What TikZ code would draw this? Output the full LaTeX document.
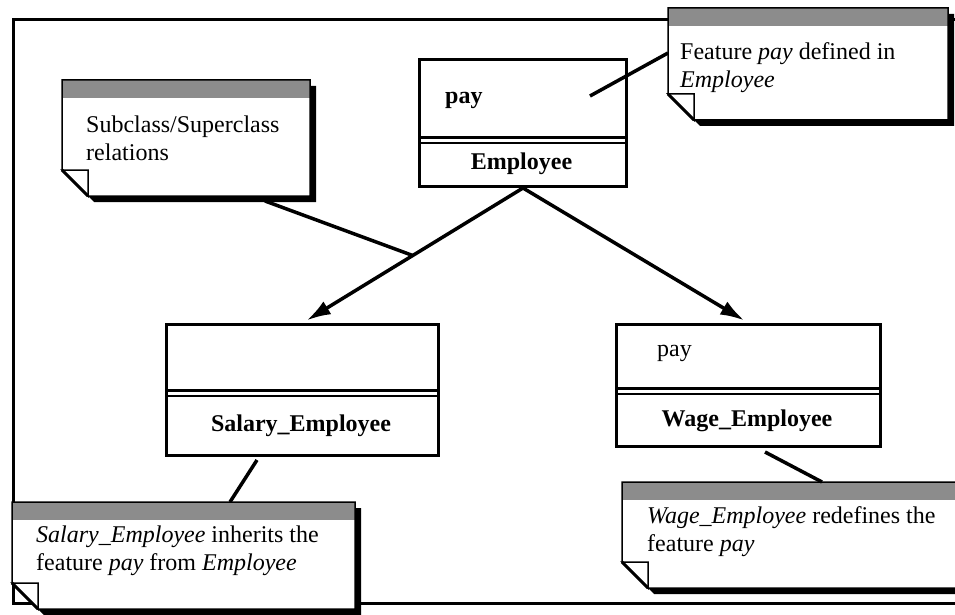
\documentclass[tikz,border=0pt]{standalone}
\usepackage{fontspec}
\setmainfont{Liberation Serif}
\usetikzlibrary{arrows.meta,calc,fit}

\tikzset{
  memotext/.style={inner sep=0pt, align=left, anchor=north west, font=\fontsize{24}{28}\selectfont},
  classbox/.style={draw, line width=3pt, inner sep=0pt},
  classname/.style={inner sep=0pt, font=\fontsize{24}{28}\selectfont\bfseries},
  attr/.style={inner sep=0pt, anchor=west, font=\fontsize{24}{28}\selectfont},
  inherit/.style={line width=3.5pt, -{Latex[length=24pt,width=15pt]}, shorten >=5pt},
  remark/.style={line width=3.5pt},
  frameline/.style={line width=3pt},
  band/.style={fill=black!45},
}

% sticky note: name, x0, y0, x1, y1 (body corners, y grows downward)
\newcommand{\memocard}[5]{%
  \fill (#2+6,#3+6) -- (#4+6,#3+6) -- (#4+6,#5+6) -- (#2+32,#5+6) -- (#2+6,#5-20) -- cycle;
  \fill[white] (#2,#3) -- (#4,#3) -- (#4,#5) -- (#2+26,#5) -- (#2,#5-26) -- cycle;
  \fill[band] (#2,#3) rectangle (#4,#3+18);
  \draw[line width=1.5pt] (#2,#3) -- (#4,#3) -- (#4,#5) -- (#2+26,#5) -- (#2,#5-26) -- cycle;
  \draw[line width=1.5pt, fill=white] (#2,#5-26) -- (#2+26,#5-26) -- (#2+26,#5) -- cycle;
  \draw[line width=3pt] (#2,#5-26) -- (#2+26,#5);
  \node[fit={(#2,#3) (#4,#5)}, inner sep=0pt] (#1) {};
}

\begin{document}
\begin{tikzpicture}[x=1pt, y=-1pt]
\useasboundingbox (0,0) rectangle (955,615);
\clip (0,0) rectangle (955,615);

% outer frame (runs off to the right)
\draw[frameline] (975,20) -- (13,20) -- (13,603) -- (975,603);

% classes
\node[classbox, anchor=north west, minimum width=207pt, minimum height=127pt] (emp) at (418,58) {};
\draw[line width=3pt] (emp.west |- 0,137) -- (emp.east |- 0,137);
\draw[line width=1.5pt] (emp.west |- 0,143) -- (emp.east |- 0,143);
\node[attr, font=\fontsize{24}{28}\selectfont\bfseries] (emppay) at (445,100) {pay};
\node[classname] (empname) at (521.5,164) {Employee};

\node[classbox, anchor=north west, minimum width=272pt, minimum height=131pt] (sal) at (165,323) {};
\draw[line width=3pt] (sal.west |- 0,390) -- (sal.east |- 0,390);
\draw[line width=1.5pt] (sal.west |- 0,396) -- (sal.east |- 0,396);
\node[classname] (salname) at (301,426) {Salary\_Employee};

\node[classbox, anchor=north west, minimum width=264pt, minimum height=122pt] (wag) at (615,323) {};
\draw[line width=3pt] (wag.west |- 0,388) -- (wag.east |- 0,388);
\draw[line width=1.5pt] (wag.west |- 0,394) -- (wag.east |- 0,394);
\node[attr] (wagpay) at (657,353) {pay};
\node[classname] (wagname) at (747,421) {Wage\_Employee};

% inheritance arrows
\draw[inherit] (emp.south) -- (sal.north);
\draw[inherit] (emp.south) -- (wag.north);

% notes
\memocard{tlmemo}{62}{80}{310}{196}
\node[memotext] (tltext) at (86,116) {Subclass/Superclass\\relations};

\memocard{trmemo}{668}{8}{948}{120}
\node[memotext] (trtext) at (680,42) {Feature \textit{pay} defined in\\\textit{Employee}};

\memocard{blmemo}{12}{502}{355}{609}
\node[memotext] (bltext) at (36,526) {\textit{Salary\_Employee} inherits the\\feature \textit{pay} from \textit{Employee}};

\memocard{brmemo}{622}{482}{962}{588}
\node[memotext] (brtext) at (647,506) {\textit{Wage\_Employee} redefines the\\feature \textit{pay}};

% note connectors
\coordinate (tlfoot) at (265,201);
\draw[remark] (tlfoot) -- ($(emp.south)!0.5!(sal.north)$);

\coordinate (trfoot) at (668,53);
\coordinate (payend) at (590,96);
\draw[remark] (trfoot) -- (payend);

\coordinate (salfoot) at (257,460);
\coordinate (bltop) at (230,502);
\draw[remark] (salfoot) -- (bltop);

\coordinate (wagfoot) at (765,452);
\coordinate (brtop) at (822,482);
\draw[remark] (wagfoot) -- (brtop);
\end{tikzpicture}
\end{document}
